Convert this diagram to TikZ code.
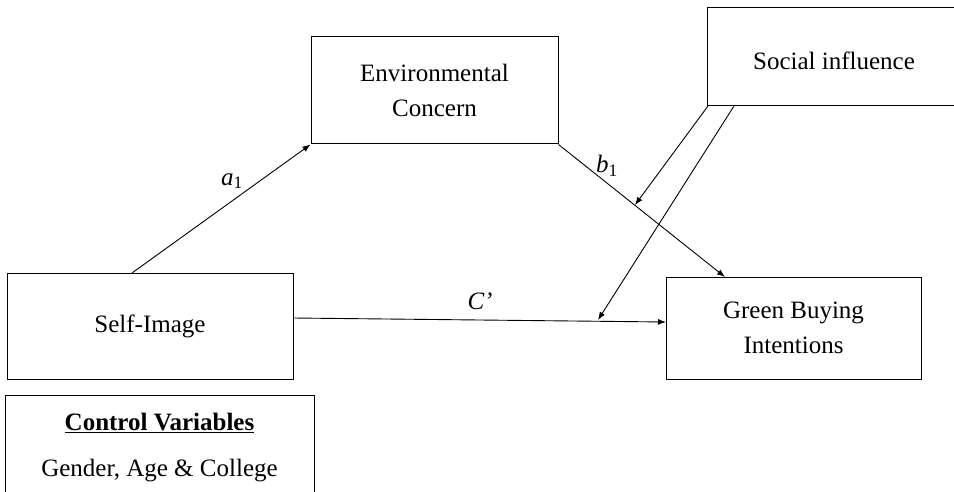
\documentclass[tikz,border=0pt]{standalone}
\usepackage{fontspec}
\setmainfont{Liberation Serif}
\usetikzlibrary{arrows.meta}
\begin{document}
\begin{tikzpicture}[x=1pt,y=-1pt,
  every node/.style={font=\fontsize{25}{35}\selectfont},
  boxnode/.style={draw,line width=1pt,inner sep=0pt,align=center},
  conn/.style={line width=0.9pt,-{Latex[length=8pt,width=6pt]}},
  plainline/.style={line width=0.9pt}]
\useasboundingbox (0,0) rectangle (954,492);
\clip (0,0) rectangle (954,492);
\node[boxnode,minimum width=247pt,minimum height=107pt] (env) at (434.5,90.5) {Environmental\\Concern};
\node[boxnode,minimum width=255pt,minimum height=98pt] (soc) at (834.5,57) {};
\node at (834,61) (soctext) {Social influence};
\node[boxnode,minimum width=286pt,minimum height=106pt] (self) at (150,326) {Self-Image};
\node[boxnode,minimum width=255pt,minimum height=102pt] (green) at (793.5,328) {Green Buying\\Intentions};
\node[boxnode,minimum width=309pt,minimum height=105pt] (ctrl) at (159.5,447.5) {};
\node (ctrltitle) at (159.5,423) {\underline{\textbf{Control Variables}}};
\node (ctrlbody) at (159.5,471) {Gender, Age \& College};
% connector end points
\coordinate (a1s) at (132,273);
\coordinate (b1e) at (725,277);
\coordinate (cs) at (293,318);
\coordinate (ce) at (666,322);
\coordinate (s1s) at (708,106);
\coordinate (s1e) at (635,205);
\coordinate (s2s) at (734,106);
\coordinate (s2e) at (598,320);
\draw[conn] (a1s) -- (env.south west);
\draw[conn] (env.south east) -- (b1e);
\draw[conn] (cs) -- (ce);
\draw[conn] (s1s) -- (s1e);
\draw[conn] (s2s) -- (s2e);
% labels
\node (la) at (232,181) {\textit{a}\textsubscript{1}};
\node (lb) at (607,166) {\textit{b}\textsubscript{1}};
\node (lc) at (480,301) {\textit{C’}};
\end{tikzpicture}
\end{document}
